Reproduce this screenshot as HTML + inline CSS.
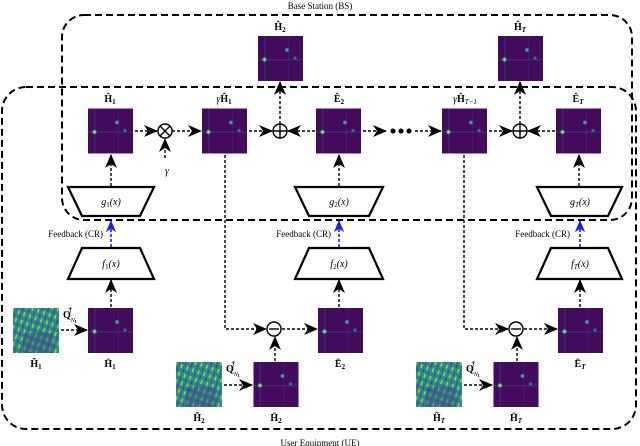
<!DOCTYPE html>
<html><head><meta charset="utf-8"><style>
html,body{margin:0;padding:0;background:#fff;}
svg{display:block;font-family:"Liberation Serif",serif;}
</style></head><body>
<svg width="640" height="446" viewBox="0 0 640 446" xmlns="http://www.w3.org/2000/svg">
<defs>
<marker id="ar" viewBox="0 0 14 12" refX="13" refY="6" markerWidth="15" markerHeight="12" markerUnits="userSpaceOnUse" orient="auto">
<path d="M0,0 L14,6 L0,12 L4,6 Z" fill="#000"/></marker>
<marker id="ab" viewBox="0 0 14 12" refX="13" refY="6" markerWidth="12" markerHeight="11" markerUnits="userSpaceOnUse" orient="auto">
<path d="M0,0 L14,6 L0,12 L4,6 Z" fill="#1a1aff"/></marker>
<symbol id="hm" viewBox="0 0 45 45">
<rect width="45" height="45" fill="#440a5c"/>
<rect x="6" y="0" width="1.5" height="45" fill="#3b3b85" opacity=".6"/>
<rect x="0" y="23" width="45" height="1.5" fill="#3b3b85" opacity=".6"/>
<rect x="30" y="0" width="1" height="45" fill="#3b3b85" opacity=".4"/>
<circle cx="6.5" cy="23.5" r="2.2" fill="#2bb07f"/><circle cx="6.5" cy="23.5" r="1" fill="#fde725"/>
<circle cx="29" cy="14" r="2" fill="#2a8a8e"/><circle cx="29" cy="14" r="0.8" fill="#6ece58"/>
<circle cx="37" cy="22" r="1.6" fill="#2a788e"/>
</symbol>
<pattern id="st" width="6" height="8" patternUnits="userSpaceOnUse" patternTransform="rotate(20)">
<rect width="6" height="8" fill="#2a8a8c"/>
<rect x="0" y="0" width="1.5" height="4" fill="#9fd83a"/>
<rect x="3" y="4" width="1.5" height="4" fill="#3b528b"/>
</pattern>
<symbol id="hc" viewBox="0 0 46 45">
<rect width="46" height="45" fill="url(#st)"/>
<rect x="10" y="25" width="30" height="20" fill="#3e4a89" opacity=".45"/>
</symbol>
</defs>

<rect x="62" y="15" width="570" height="205" rx="22" fill="none" stroke="#000" stroke-width="2" stroke-dasharray="7 4"/>
<rect x="2" y="87" width="634" height="342" rx="24" fill="none" stroke="#000" stroke-width="2" stroke-dasharray="7 4"/>
<text x="320" y="9" font-size="9" text-anchor="middle">Base Station (BS)</text>
<text x="320" y="446" font-size="9" text-anchor="middle">User Equipment (UE)</text>

<use href="#hm" x="258" y="36" width="45" height="45"/>
<use href="#hm" x="498" y="36" width="45" height="45"/>
<use href="#hm" x="88" y="108" width="45" height="46"/>
<use href="#hm" x="202" y="108" width="45" height="46"/>
<use href="#hm" x="316" y="108" width="45" height="46"/>
<use href="#hm" x="442" y="108" width="45" height="46"/>
<use href="#hm" x="556" y="108" width="45" height="46"/>
<use href="#hc" x="13" y="308" width="46" height="45"/>
<use href="#hm" x="88" y="308" width="45" height="45"/>
<use href="#hm" x="318" y="308" width="45" height="45"/>
<use href="#hm" x="558" y="308" width="45" height="45"/>
<use href="#hc" x="176" y="362" width="46" height="45"/>
<use href="#hm" x="253" y="362" width="46" height="45"/>
<use href="#hc" x="416" y="362" width="46" height="45"/>
<use href="#hm" x="493" y="362" width="46" height="45"/>

<g font-size="10" font-weight="bold" text-anchor="middle">
<text x="280" y="30">Ĥ<tspan font-size="7" dy="2">2</tspan></text>
<text x="520" y="30">Ĥ<tspan font-size="7" dy="2" font-style="italic">T</tspan></text>
<text x="110" y="102">Ĥ<tspan font-size="7" dy="2">1</tspan></text>
<text x="224" y="102"><tspan font-style="italic" font-weight="normal">γ</tspan>Ĥ<tspan font-size="7" dy="2">1</tspan></text>
<text x="339" y="102">Ê<tspan font-size="7" dy="2">2</tspan></text>
<text x="465" y="102"><tspan font-style="italic" font-weight="normal">γ</tspan>Ĥ<tspan font-size="7" dy="2" font-style="italic" font-weight="normal">T−1</tspan></text>
<text x="578" y="102">Ê<tspan font-size="7" dy="2" font-style="italic">T</tspan></text>
<text x="36" y="367">H̃<tspan font-size="7" dy="2">1</tspan></text>
<text x="110" y="367">H̄<tspan font-size="7" dy="2">1</tspan></text>
<text x="340" y="367">Ē<tspan font-size="7" dy="2">2</tspan></text>
<text x="580" y="367">Ē<tspan font-size="7" dy="2" font-style="italic">T</tspan></text>
<text x="199" y="421">H̃<tspan font-size="7" dy="2">2</tspan></text>
<text x="276" y="421">H̄<tspan font-size="7" dy="2">2</tspan></text>
<text x="439" y="421">H̃<tspan font-size="7" dy="2" font-style="italic">T</tspan></text>
<text x="516" y="421">H̄<tspan font-size="7" dy="2" font-style="italic">T</tspan></text>
</g>
<g font-size="10" font-weight="bold">
<text x="63" y="318">Q<tspan font-size="6" font-style="italic" font-weight="normal" dy="4">N</tspan><tspan font-size="5" dy="1">t</tspan><tspan font-size="7" dx="-8" dy="-11">†</tspan></text>
<text x="226" y="372">Q<tspan font-size="6" font-style="italic" font-weight="normal" dy="4">N</tspan><tspan font-size="5" dy="1">t</tspan><tspan font-size="7" dx="-8" dy="-11">†</tspan></text>
<text x="466" y="372">Q<tspan font-size="6" font-style="italic" font-weight="normal" dy="4">N</tspan><tspan font-size="5" dy="1">t</tspan><tspan font-size="7" dx="-8" dy="-11">†</tspan></text>
</g>
<text x="167" y="174" font-size="10" font-style="italic" text-anchor="middle">γ</text>

<g fill="none" stroke="#000" stroke-width="1.4">
<circle cx="165" cy="131" r="7"/><path d="M160,126 L170,136 M170,126 L160,136"/>
<circle cx="280" cy="131" r="7"/><path d="M273,131 H287 M280,124 V138"/>
<circle cx="520" cy="131" r="7"/><path d="M513,131 H527 M520,124 V138"/>
<circle cx="274" cy="329" r="7"/><path d="M269,329 H279"/>
<circle cx="516" cy="329" r="7"/><path d="M511,329 H521"/>
</g>
<g fill="#000"><circle cx="393" cy="131" r="2.5"/><circle cx="401" cy="131" r="2.5"/><circle cx="409" cy="131" r="2.5"/></g>

<g fill="#fff" stroke="#000" stroke-width="2.2">
<path d="M68,187 H154 L140,216 H82 Z"/>
<path d="M295,187 H383 L369,216 H309 Z"/>
<path d="M537,187 H622 L608,216 H551 Z"/>
<path d="M82,248 H140 L154,279 H68 Z"/>
<path d="M309,248 H369 L383,279 H295 Z"/>
<path d="M551,248 H608 L622,279 H537 Z"/>
</g>
<g font-size="10" font-style="italic" text-anchor="middle">
<text x="111" y="205">g<tspan font-size="7" font-style="normal" dy="2">1</tspan><tspan dy="-2">(x)</tspan></text>
<text x="339" y="205">g<tspan font-size="7" font-style="normal" dy="2">2</tspan><tspan dy="-2">(x)</tspan></text>
<text x="580" y="205">g<tspan font-size="7" dy="2">T</tspan><tspan dy="-2">(x)</tspan></text>
<text x="111" y="267">f<tspan font-size="7" font-style="normal" dy="2">1</tspan><tspan dy="-2">(x)</tspan></text>
<text x="339" y="267">f<tspan font-size="7" font-style="normal" dy="2">2</tspan><tspan dy="-2">(x)</tspan></text>
<text x="580" y="267">f<tspan font-size="7" dy="2">T</tspan><tspan dy="-2">(x)</tspan></text>
</g>
<g font-size="9" text-anchor="end">
<text x="103" y="237">Feedback (CR)</text>
<text x="331" y="237">Feedback (CR)</text>
<text x="570" y="237">Feedback (CR)</text>
</g>

<g fill="none" stroke="#000" stroke-width="1.4" stroke-dasharray="3 2" marker-end="url(#ar)">
<path d="M135,131 H157"/>
<path d="M172,131 H201"/>
<path d="M165,158 V139"/>
<path d="M249,131 H272"/>
<path d="M315,131 H288"/>
<path d="M280,124 V82"/>
<path d="M363,131 H386"/>
<path d="M415,131 H441"/>
<path d="M489,131 H512"/>
<path d="M555,131 H528"/>
<path d="M520,124 V82"/>
<path d="M111,186 V155"/>
<path d="M339,186 V155"/>
<path d="M579,186 V155"/>
<path d="M111,307 V280"/>
<path d="M339,307 V280"/>
<path d="M580,307 V280"/>
<path d="M61,330 H87"/>
<path d="M224,385 H252"/>
<path d="M464,385 H492"/>
<path d="M225,155 V329 H266"/>
<path d="M464,155 V329 H508"/>
<path d="M282,329 H317"/>
<path d="M524,329 H557"/>
<path d="M275,361 V337"/>
<path d="M517,361 V337"/>
</g>
<g fill="none" stroke="#1a1aff" stroke-width="1.6" stroke-dasharray="3 2" marker-end="url(#ab)">
<path d="M111,247 V221"/>
<path d="M339,247 V221"/>
<path d="M580,247 V221"/>
</g>
</svg>
</body></html>
